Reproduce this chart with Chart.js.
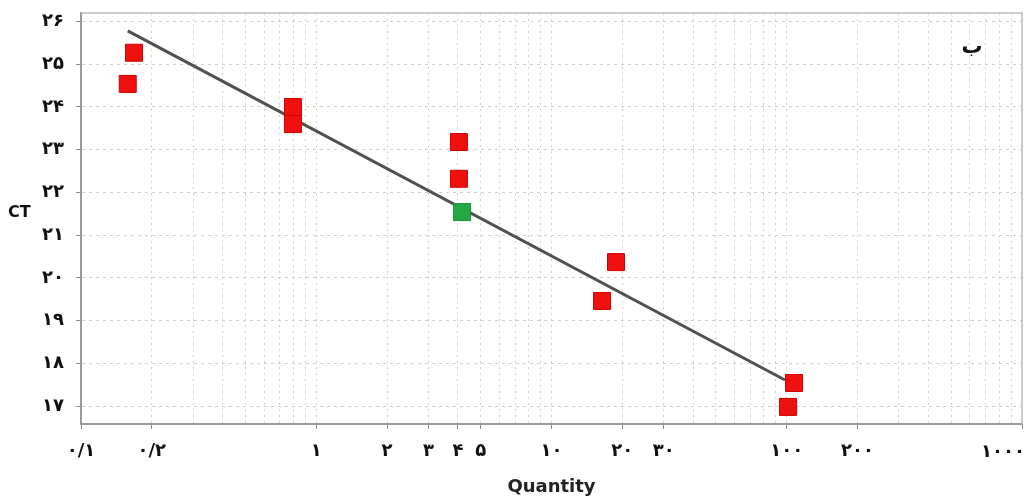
<!DOCTYPE html>
<html>
<head>
<meta charset="utf-8">
<script src="https://cdn.jsdelivr.net/npm/chart.js@4/dist/chart.umd.min.js"></script>
<style>
  html, body { margin: 0; padding: 0; background: #fff; }
  #wrap { width: 1028px; height: 498px; }
</style>
</head>
<body>
<div id="wrap"><canvas id="ct-chart"></canvas></div>
<script>
// standards (red), unknown sample (green), fitted standard curve
const redQty = [0.168, 0.158, 0.796, 0.796, 4.04, 4.04, 18.8, 16.4, 107.4, 101.2];
const redCt = [25.27, 24.54, 24.0, 23.6, 23.18, 22.32, 20.37, 19.46, 17.54, 16.98];
const greenQty = [4.17];
const greenCt = [21.54];
const lineQty = [0.158, 98.3];
const lineCt = [25.78, 17.61];

const xTicks = [0.1, 0.2, 0.3, 0.4, 0.5, 0.6, 0.7, 0.8, 0.9,
  1, 2, 3, 4, 5, 6, 7, 8, 9,
  10, 20, 30, 40, 50, 60, 70, 80, 90,
  100, 200, 300, 400, 500, 600, 700, 800, 900, 1000];
const xLabelled = [0.1, 0.2, 1, 2, 3, 4, 5, 10, 20, 30, 100, 200, 1000];
const yTicks = [17, 18, 19, 20, 21, 22, 23, 24, 25, 26];

const faDigits = '۰۱۲۳۴۵۶۷۸۹';
const toFa = v => String(v).replace(/[0-9]/g, d => faDigits[d]).replace('.', '/');

const toPoints = (xs, ys) => xs.map((x, i) => ({x: x, y: ys[i]}));

const tickFont = {family: 'DejaVu Sans', size: 18, weight: 'bold'};

const extras = {
  id: 'extras',
  afterDraw(chart) {
    const {ctx, chartArea: a} = chart;
    ctx.save();
    // top / right frame
    ctx.strokeStyle = '#bdbdbd';
    ctx.lineWidth = 1.5;
    ctx.beginPath();
    ctx.moveTo(a.left, a.top);
    ctx.lineTo(a.right, a.top);
    ctx.lineTo(a.right, a.bottom);
    ctx.stroke();

    // last x label sits inside the canvas, right aligned
    ctx.fillStyle = '#111';
    ctx.font = 'bold 18px "DejaVu Sans"';
    ctx.textAlign = 'right';
    ctx.textBaseline = 'middle';
    ctx.fillText(toFa(1000), 1025, 452);

    // y axis title, horizontal
    ctx.textAlign = 'left';
    ctx.font = 'bold 16px "DejaVu Sans"';
    ctx.fillText('CT', 8, 213);

    // panel letter
    ctx.font = 'bold 21px "DejaVu Sans"';
    ctx.textAlign = 'center';
    ctx.fillText('ب', 972, 48);
    ctx.restore();
  }
};

new Chart(document.getElementById('ct-chart'), {
  type: 'scatter',
  data: {
    datasets: [
      {
        label: 'standard curve',
        data: toPoints(lineQty, lineCt),
        showLine: true,
        borderColor: '#505050',
        borderWidth: 3,
        pointRadius: 0,
        order: 2
      },
      {
        label: 'standards',
        data: toPoints(redQty, redCt),
        pointStyle: 'rect',
        pointRadius: 12,
        backgroundColor: '#f01010',
        borderColor: '#d00000',
        borderWidth: 1,
        order: 1
      },
      {
        label: 'sample',
        data: toPoints(greenQty, greenCt),
        pointStyle: 'rect',
        pointRadius: 12,
        backgroundColor: '#23a845',
        borderColor: '#1b8f39',
        borderWidth: 1,
        order: 0
      }
    ]
  },
  options: {
    responsive: true,
    maintainAspectRatio: false,
    animation: false,
    layout: {autoPadding: false, padding: {top: 13, right: 6, left: 0, bottom: 0}},
    plugins: {
      legend: {display: false},
      tooltip: {enabled: false}
    },
    scales: {
      x: {
        type: 'logarithmic',
        min: 0.1,
        max: 1000,
        afterBuildTicks: s => { s.ticks = xTicks.map(v => ({value: v})); },
        afterFit: s => { s.height = 74; s.paddingLeft = 0; s.paddingRight = 0; },
        ticks: {
          autoSkip: false,
          maxRotation: 0,
          padding: 12,
          color: '#111',
          font: tickFont,
          callback: v => (xLabelled.includes(v) && v !== 1000) ? toFa(v) : ''
        },
        grid: {
          color: '#cfcfcf',
          lineWidth: 1,
          tickLength: 5,
          tickColor: c => (c.tick && xLabelled.includes(c.tick.value)) ? '#8a8a8a' : 'rgba(0,0,0,0)'
        },
        border: {color: '#9a9a9a', width: 2, dash: [2, 4]},
        title: {
          display: true,
          text: 'Quantity',
          color: '#222',
          font: {family: 'DejaVu Sans', size: 18, weight: 'bold'},
          padding: {top: 4, bottom: 0}
        }
      },
      y: {
        min: 16.58,
        max: 26.2,
        afterBuildTicks: s => { s.ticks = yTicks.map(v => ({value: v})); },
        afterFit: s => { s.width = 81; s.paddingTop = 0; s.paddingBottom = 0; },
        ticks: {
          padding: 12,
          color: '#111',
          font: tickFont,
          callback: v => toFa(v)
        },
        grid: {
          color: '#cfcfcf',
          lineWidth: 1,
          tickLength: 5,
          tickColor: '#8a8a8a'
        },
        border: {color: '#9a9a9a', width: 2, dash: [3, 4]}
      }
    }
  },
  plugins: [extras]
});
</script>
</body>
</html>
